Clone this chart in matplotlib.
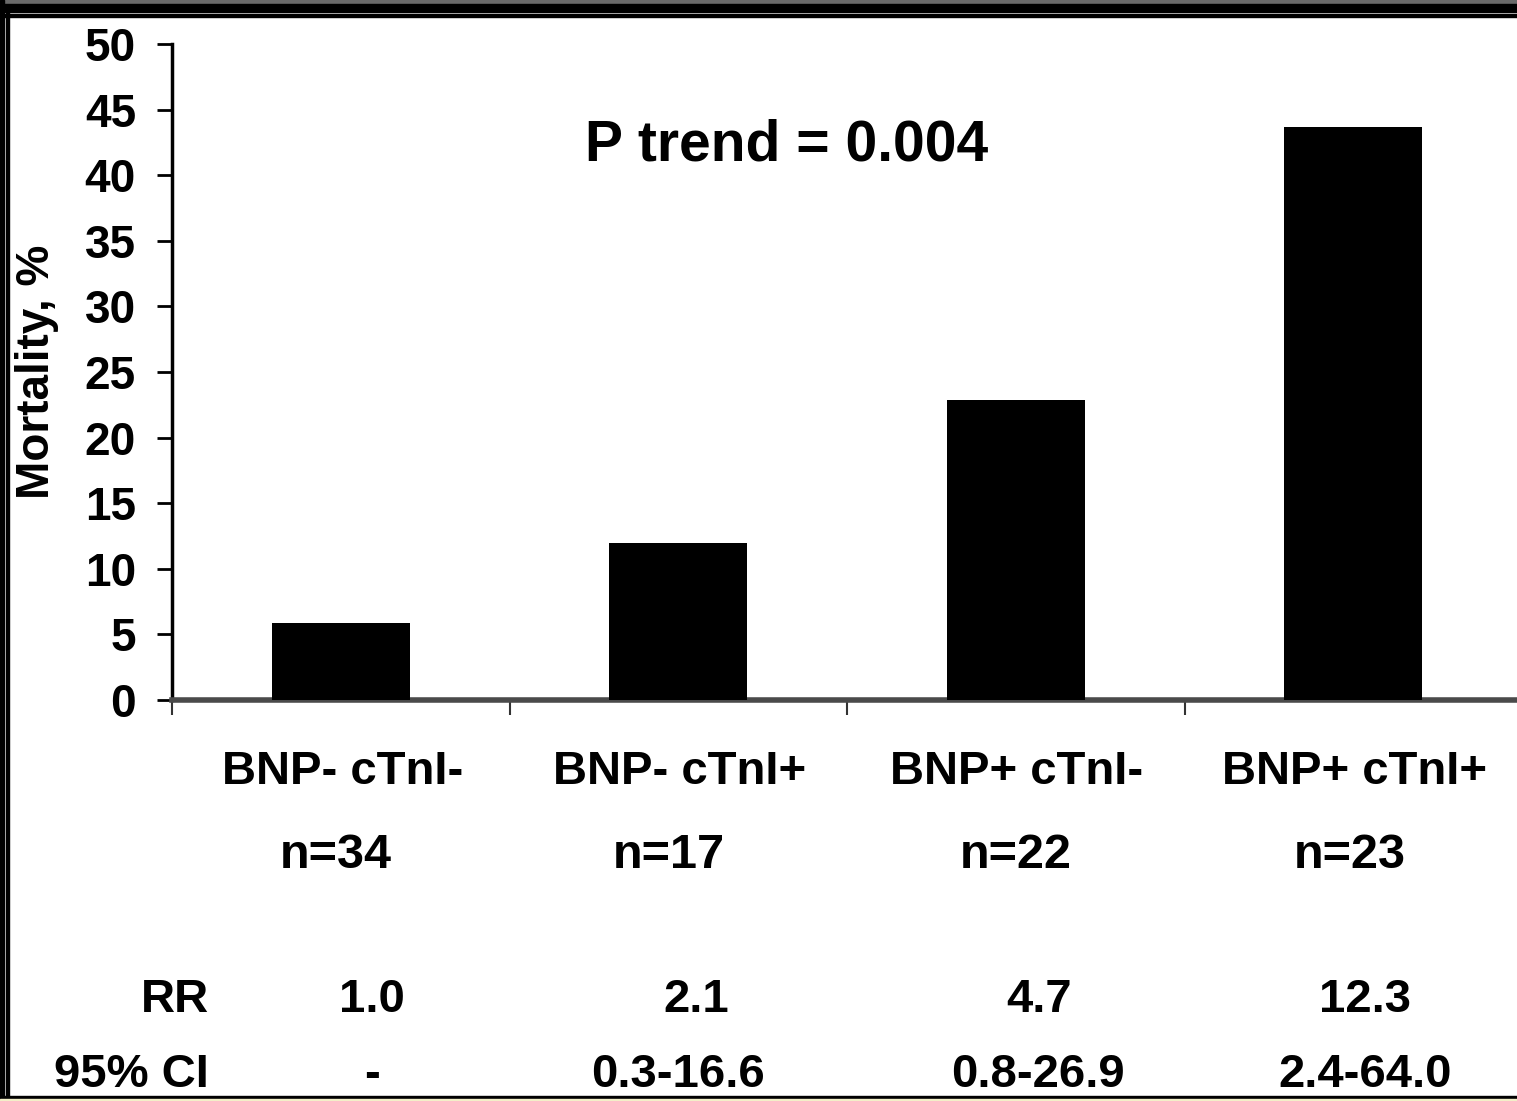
import matplotlib.pyplot as plt
import matplotlib.transforms as mtransforms
from matplotlib.patches import Rectangle
import numpy as np

# Chart data
groups = ["BNP- cTnI-", "BNP- cTnI+", "BNP+ cTnI-", "BNP+ cTnI+"]
counts = ["n=34", "n=17", "n=22", "n=23"]
mortality = [5.9, 12.0, 22.9, 43.7]
rr_values = ["1.0", "2.1", "4.7", "12.3"]
ci_values = ["-", "0.3-16.6", "0.8-26.9", "2.4-64.0"]
y_ticks = [0, 5, 10, 15, 20, 25, 30, 35, 40, 45, 50]
p_trend = "P trend = 0.004"

plt.rcParams['font.family'] = ['Liberation Sans', 'DejaVu Sans']
plt.rcParams['font.weight'] = 'bold'

W, H = 1517, 1101
fig = plt.figure(figsize=(W / 100, H / 100), dpi=100)
fig.patch.set_facecolor('white')

# Slide style frame round the picture
fig.patches.append(Rectangle((0, 1 - 4 / H), 1, 4 / H, transform=fig.transFigure,
                             color='#6a6a6a', zorder=0))
fig.patches.append(Rectangle((0, 1 - 12 / H), 1, 8 / H, transform=fig.transFigure,
                             color='black', zorder=0))
fig.patches.append(Rectangle((0, 1 - 17 / H), 1, 3 / H, transform=fig.transFigure,
                             color='black', zorder=0))
fig.patches.append(Rectangle((0, 0), 4 / W, 1, transform=fig.transFigure,
                             color='black', zorder=0))
fig.patches.append(Rectangle((6 / W, 0), 3 / W, 1 - 12 / H, transform=fig.transFigure,
                             color='black', zorder=0))
fig.patches.append(Rectangle((0, 2 / H), 1, 3 / H, transform=fig.transFigure,
                             color='black', zorder=0))
fig.patches.append(Rectangle((0, 0), 1, 2 / H, transform=fig.transFigure,
                             color='#f3efc8', zorder=0))

# Axes: left spine at 172 px, zero line at 700 px, top at 44 px
ax = fig.add_axes([172 / W, 1 - 700 / H, 1350 / W, 656 / H])
ax.set_facecolor('none')

x = np.arange(len(groups))
ax.bar(x, mortality, width=0.41, color='black', zorder=3)

ax.set_xlim(-0.5, len(groups) - 0.5)
ax.set_ylim(0, 50)
ax.set_yticks(y_ticks)
ax.set_yticklabels([str(t) for t in y_ticks], fontsize=33, fontweight='bold')
ax.tick_params(axis='y', direction='out', length=11, width=2, pad=15)

# Category boundaries as x ticks
ax.set_xticks(np.arange(len(groups) + 1) - 0.5)
ax.set_xticklabels([])
ax.tick_params(axis='x', direction='out', length=11, width=1.5, color='#333333')

ax.spines['top'].set_visible(False)
ax.spines['right'].set_visible(False)
ax.spines['left'].set_linewidth(2.5)
ax.spines['bottom'].set_linewidth(4)
ax.spines['bottom'].set_color('#4a4a4a')

ax.set_ylabel("Mortality, %", fontsize=33, fontweight='bold')
ax.yaxis.set_label_coords(-113 / 1350, 0.5)

ax.text(1.32, 42.3, p_trend, fontsize=41, fontweight='bold', ha='center', va='center')

# Text rows under the axis
trans = mtransforms.blended_transform_factory(ax.transData, fig.transFigure)
name_off = [0.005, 0.003, 0.003, 0.003]
n_off = [-0.015, -0.027, 0.0, -0.01]
rr_off = [0.092, 0.053, 0.07, 0.036]
ci_off = [0.092, 0.0, 0.065, 0.036]
for i in range(len(groups)):
    ax.text(x[i] + name_off[i], 1 - 772 / H, groups[i], transform=trans,
            fontsize=34, fontweight='bold', ha='center', va='center')
    ax.text(x[i] + n_off[i], 1 - 855 / H, counts[i], transform=trans,
            fontsize=35, fontweight='bold', ha='center', va='center')
    ax.text(x[i] + rr_off[i], 1 - 1000 / H, rr_values[i], transform=trans,
            fontsize=34, fontweight='bold', ha='center', va='center')
    ax.text(x[i] + ci_off[i], 1 - 1075 / H, ci_values[i], transform=trans,
            fontsize=34, fontweight='bold', ha='center', va='center')

fig.text(209 / W, 1 - 1000 / H, "RR", fontsize=34, fontweight='bold',
         ha='right', va='center')
fig.text(209 / W, 1 - 1075 / H, "95% CI", fontsize=34, fontweight='bold',
         ha='right', va='center')

fig.savefig("out.png", dpi=100)
